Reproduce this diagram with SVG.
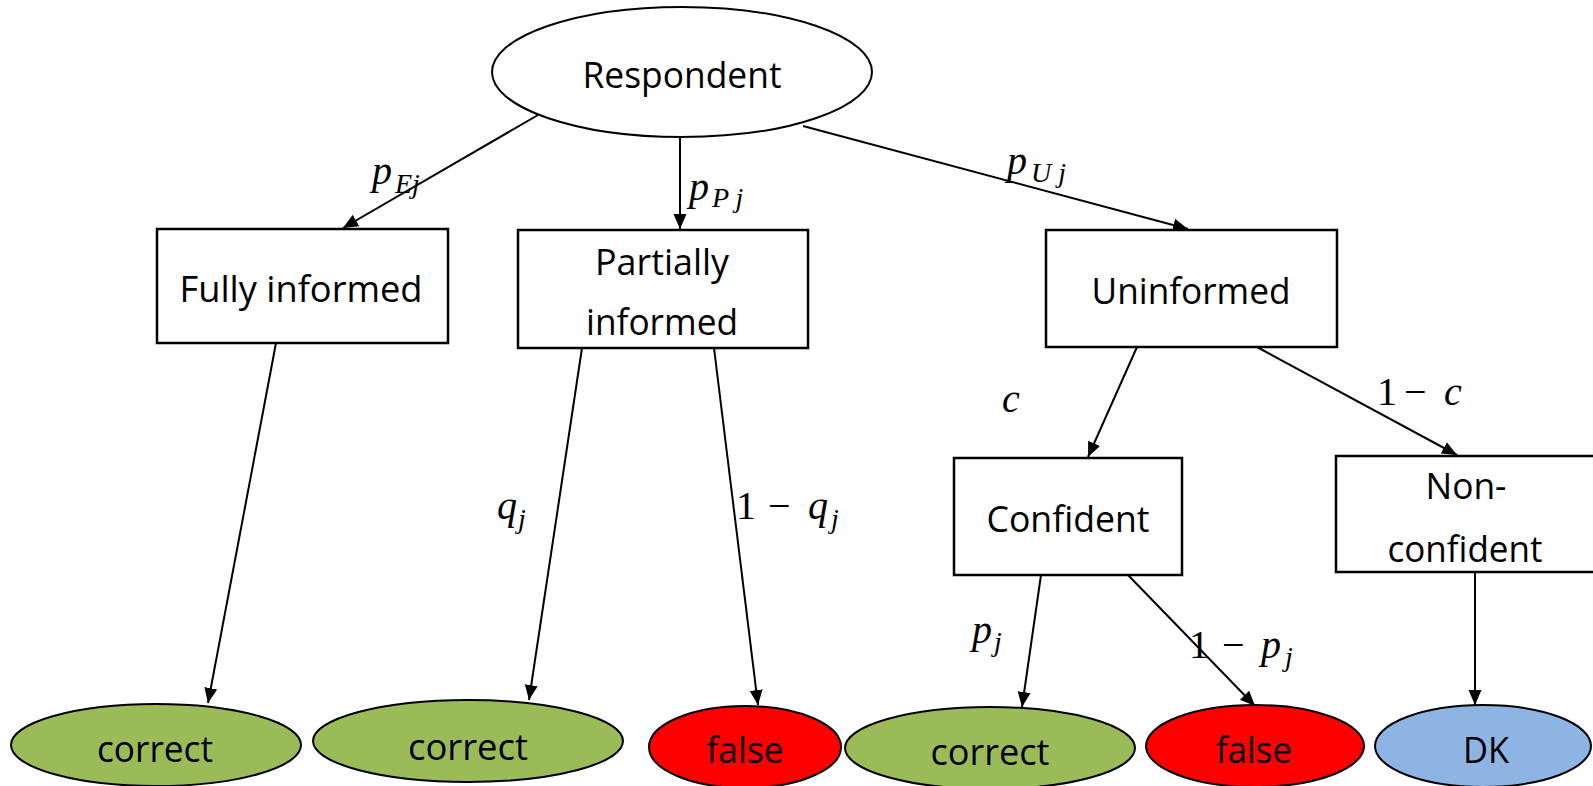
<svg xmlns="http://www.w3.org/2000/svg" width="1593" height="786" viewBox="0 0 1593 786">
<style>
.box{fill:#fff;stroke:#000;stroke-width:2.5}
.oval{stroke:#000;stroke-width:2}
.lbl{font-family:"Open Sans","Liberation Sans",sans-serif;font-size:36px;fill:#000;text-anchor:middle}
.m{font-family:"Liberation Serif",serif;font-size:40px;font-style:italic;fill:#000}
.mn{font-family:"Liberation Serif",serif;font-size:40px;fill:#000}
.s{font-family:"Liberation Serif",serif;font-size:28px;font-style:italic;fill:#000}
.edge{stroke:#000;stroke-width:2;fill:none;marker-end:url(#ah)}
</style>
<defs>
<marker id="ah" markerUnits="userSpaceOnUse" markerWidth="16" markerHeight="14" refX="15" refY="6.5" orient="auto">
<path d="M0,0 L15,6.5 L0,13 z" fill="#000"/>
</marker>
</defs>
<rect width="1593" height="786" fill="#fff"/>
<g id="connectors">
<path class="edge" d="M538,115 L343,228"/>
<path class="edge" d="M680,137 L680,229"/>
<path class="edge" d="M803,126 L1188,229"/>
<path class="edge" d="M276,343 L208,703"/>
<path class="edge" d="M582,348 L529,700"/>
<path class="edge" d="M714,348 L758,705"/>
<path class="edge" d="M1137,347 L1088,457"/>
<path class="edge" d="M1257,347 L1457,455"/>
<path class="edge" d="M1041,575 L1022,707"/>
<path class="edge" d="M1128,575 L1255,706"/>
<path class="edge" d="M1475,572 L1475,705"/>
</g>
<g id="respondent">
<ellipse class="oval" cx="682" cy="72" rx="190" ry="65" fill="#fff"/>
<text class="lbl" x="682" y="88" textLength="199" lengthAdjust="spacingAndGlyphs">Respondent</text>
</g>
<g id="fully">
<rect class="box" x="157" y="229" width="291" height="114"/>
<text class="lbl" x="301" y="302" textLength="243" lengthAdjust="spacingAndGlyphs">Fully informed</text>
</g>
<g id="partially">
<rect class="box" x="518" y="230" width="290" height="118"/>
<text class="lbl" x="662" y="275" textLength="134" lengthAdjust="spacingAndGlyphs">Partially</text>
<text class="lbl" x="662" y="335" textLength="152" lengthAdjust="spacingAndGlyphs">informed</text>
</g>
<g id="uninformed">
<rect class="box" x="1046" y="230" width="291" height="117"/>
<text class="lbl" x="1191" y="304" textLength="199" lengthAdjust="spacingAndGlyphs">Uninformed</text>
</g>
<g id="confident">
<rect class="box" x="954" y="458" width="228" height="117"/>
<text class="lbl" x="1068" y="532" textLength="163" lengthAdjust="spacingAndGlyphs">Confident</text>
</g>
<g id="nonconfident">
<rect class="box" x="1336" y="456" width="262" height="116"/>
<text class="lbl" x="1466" y="499" textLength="81" lengthAdjust="spacingAndGlyphs">Non-</text>
<text class="lbl" x="1465" y="562" textLength="155" lengthAdjust="spacingAndGlyphs">confident</text>
</g>
<g id="out1">
<ellipse class="oval" cx="156" cy="745" rx="145" ry="41" fill="#9BBB59"/>
<text class="lbl" x="155" y="762" textLength="116" lengthAdjust="spacingAndGlyphs">correct</text>
</g>
<g id="out2">
<ellipse class="oval" cx="468" cy="741" rx="155" ry="41" fill="#9BBB59"/>
<text class="lbl" x="468" y="760" textLength="120" lengthAdjust="spacingAndGlyphs">correct</text>
</g>
<g id="out3">
<ellipse class="oval" cx="745" cy="747" rx="96" ry="41" fill="#FF0000"/>
<text class="lbl" x="745" y="763" textLength="77" lengthAdjust="spacingAndGlyphs">false</text>
</g>
<g id="out4">
<ellipse class="oval" cx="990" cy="748" rx="145" ry="41" fill="#9BBB59"/>
<text class="lbl" x="990" y="765" textLength="119" lengthAdjust="spacingAndGlyphs">correct</text>
</g>
<g id="out5">
<ellipse class="oval" cx="1255" cy="746" rx="109" ry="41" fill="#FF0000"/>
<text class="lbl" x="1254" y="763" textLength="76" lengthAdjust="spacingAndGlyphs">false</text>
</g>
<g id="out6">
<ellipse class="oval" cx="1483" cy="746" rx="108" ry="41" fill="#8EB4E3"/>
<text class="lbl" x="1486" y="763" textLength="46" lengthAdjust="spacingAndGlyphs">DK</text>
</g>
<g id="labels">
<text class="m" x="372" y="184">p</text><text class="s" x="395" y="193">Ej</text>
<text class="m" x="689" y="200">p</text><text class="s" x="712" y="207">P j</text>
<text class="m" x="1007" y="174">p</text><text class="s" x="1031" y="182">U j</text>
<text class="m" x="1002" y="412">c</text>
<text class="mn" x="1377" y="405">1</text><text class="mn" x="1404" y="405">−</text><text class="m" x="1444" y="405">c</text>
<text class="m" x="497" y="519">q</text><text class="s" x="518" y="528">j</text>
<text class="mn" x="736" y="519">1</text><text class="mn" x="768" y="519">−</text><text class="m" x="808" y="519">q</text><text class="s" x="831" y="528">j</text>
<text class="m" x="972" y="643">p</text><text class="s" x="994" y="651">j</text>
<text class="mn" x="1189" y="658">1</text><text class="mn" x="1222" y="658">−</text><text class="m" x="1261" y="658">p</text><text class="s" x="1285" y="666">j</text>
</g>
</svg>
